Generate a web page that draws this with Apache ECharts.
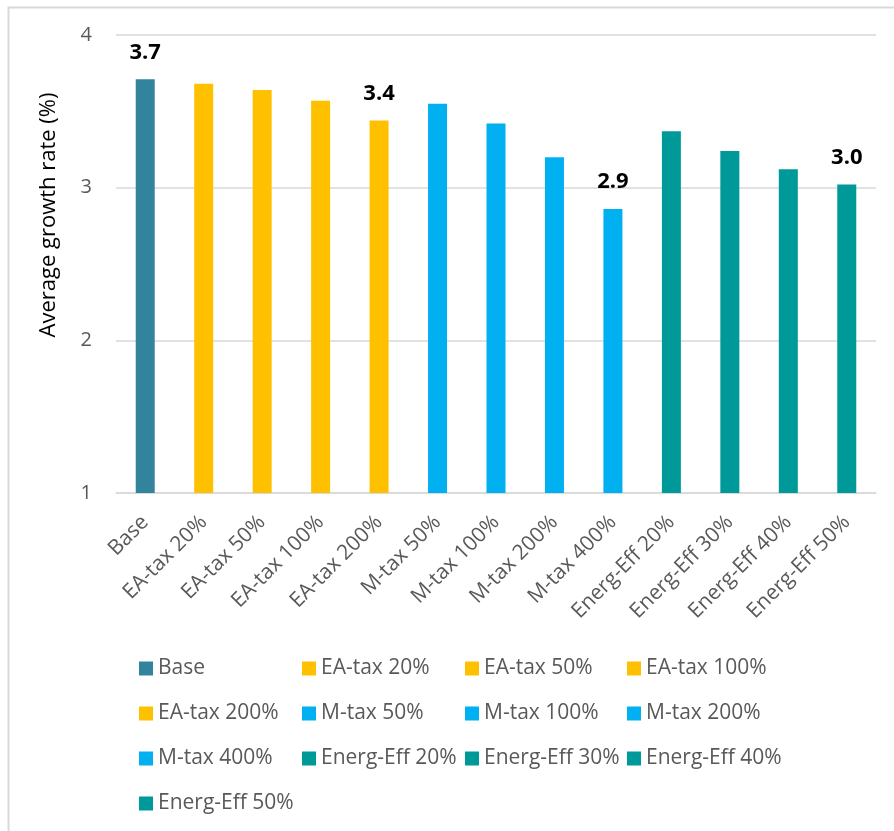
<!DOCTYPE html>
<html>
<head>
<meta charset="utf-8">
<script src="https://cdn.jsdelivr.net/npm/echarts@6/dist/echarts.min.js"></script>
<style>
  html, body { margin: 0; padding: 0; background: #fff; }
  #chart { width: 894px; height: 831px; }
</style>
</head>
<body>
<div id="chart"></div>
<script>
// Scenario names along the x axis
const categories = [
  'Base', 'EA-tax 20%', 'EA-tax 50%', 'EA-tax 100%', 'EA-tax 200%',
  'M-tax 50%', 'M-tax 100%', 'M-tax 200%', 'M-tax 400%',
  'Energ-Eff 20%', 'Energ-Eff 30%', 'Energ-Eff 40%', 'Energ-Eff 50%'
];
// Average growth rate (%) per scenario
const growthRates = [3.71, 3.68, 3.64, 3.57, 3.44, 3.55, 3.42, 3.20, 2.86, 3.37, 3.24, 3.12, 3.02];
// Fill colour per scenario group
const barColors = [
  '#31849B', '#FFC000', '#FFC000', '#FFC000', '#FFC000',
  '#00B0F0', '#00B0F0', '#00B0F0', '#00B0F0',
  '#009999', '#009999', '#009999', '#009999'
];
// Scenarios whose value is printed above the bar
const labelled = ['Base', 'EA-tax 200%', 'M-tax 400%', 'Energ-Eff 50%'];
// Y axis ticks
const yTicks = { min: 1, max: 4, interval: 1 };
// Legend columns (the legend reads row by row, four entries per row)
const legendColumns = [
  ['Base', 'EA-tax 200%', 'M-tax 400%', 'Energ-Eff 50%'],
  ['EA-tax 20%', 'M-tax 50%', 'Energ-Eff 20%'],
  ['EA-tax 50%', 'M-tax 100%', 'Energ-Eff 30%'],
  ['EA-tax 100%', 'M-tax 200%', 'Energ-Eff 40%']
];

const FONT = "'Open Sans', sans-serif";
const GREY = '#595959';

const series = categories.map((name, i) => ({
  name: name,
  type: 'bar',
  stack: 'all',
  barWidth: 19,
  itemStyle: { color: barColors[i] },
  label: {
    show: labelled.includes(name),
    position: 'top',
    distance: 16,
    formatter: p => Number(p.value).toFixed(1),
    fontFamily: FONT,
    fontSize: 22,
    fontWeight: 'bold',
    color: '#000'
  },
  data: categories.map((c, j) => (j === i ? growthRates[i] : '-'))
}));

const legendLeft = [139, 302, 465, 627];
const legends = legendColumns.map((col, k) => ({
  data: col,
  orient: 'vertical',
  left: legendLeft[k],
  top: 658,
  height: 200,
  padding: 0,
  itemWidth: 14,
  itemHeight: 14,
  itemGap: 24,
  icon: 'rect',
  selectedMode: false,
  textStyle: { fontFamily: FONT, fontSize: 21, lineHeight: 21, color: GREY }
}));

const chart = echarts.init(document.getElementById('chart'), null, { renderer: 'canvas' });
chart.setOption({
  animation: false,
  backgroundColor: '#fff',
  textStyle: { fontFamily: FONT },
  grid: { left: 116, right: 18, top: 35, bottom: 338, containLabel: false },
  xAxis: {
    type: 'category',
    data: categories,
    axisLine: { show: true, lineStyle: { color: '#d9d9d9', width: 1.5 } },
    axisTick: { show: false },
    axisLabel: {
      interval: 0,
      rotate: 45,
      margin: 26,
      fontFamily: FONT,
      fontSize: 21,
      color: GREY
    }
  },
  yAxis: {
    type: 'value',
    min: yTicks.min,
    max: yTicks.max,
    interval: yTicks.interval,
    axisLine: { show: false },
    axisTick: { show: false },
    splitLine: { lineStyle: { color: '#d9d9d9', width: 1.5 } },
    axisLabel: { margin: 24, fontFamily: FONT, fontSize: 20, color: GREY }
  },
  legend: legends,
  series: series,
  graphic: [
    {
      type: 'rect',
      left: 6, top: 5,
      shape: { width: 1000, height: 1000 },
      style: { fill: 'none', stroke: '#d9d9d9', lineWidth: 2 },
      silent: true
    },
    {
      type: 'text',
      x: 49, y: 215,
      rotation: Math.PI / 2,
      style: {
        text: 'Average growth rate (%)',
        fontFamily: FONT,
        fontSize: 22,
        fill: '#000',
        align: 'center',
        verticalAlign: 'middle'
      }
    }
  ]
});
</script>
</body>
</html>
